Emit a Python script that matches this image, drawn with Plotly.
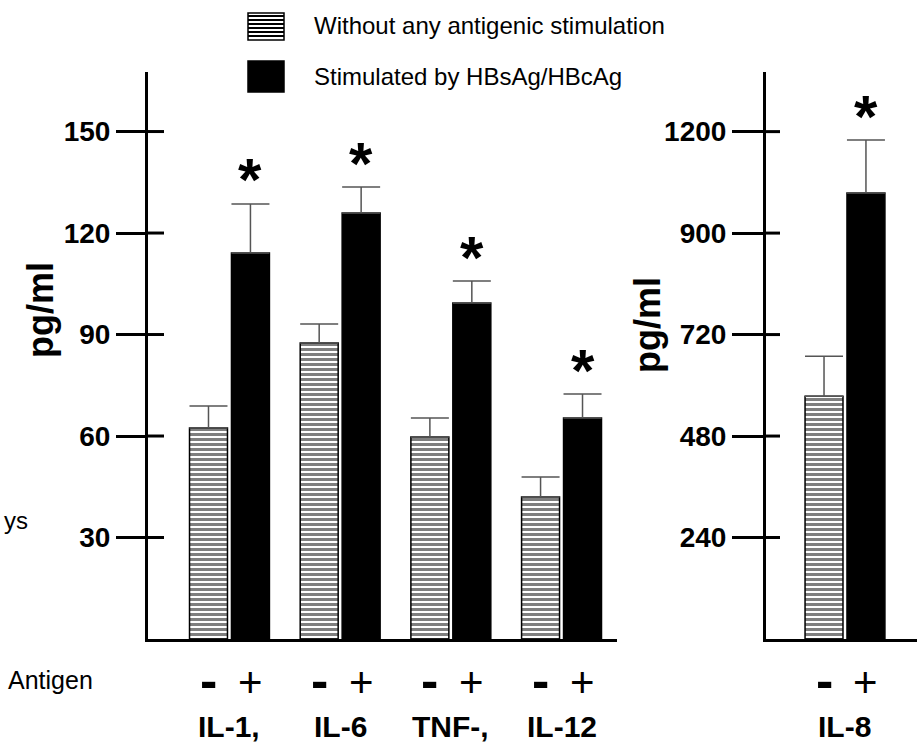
import plotly.graph_objects as go

# ---------------- data ----------------
cytokines = ["IL-1,", "IL-6", "TNF-,", "IL-12"]
unstim = [62.4, 87.5, 59.7, 42.0]
unstim_err = [6.5, 5.6, 5.6, 5.9]
stim = [114.1, 125.9, 99.3, 65.3]
stim_err = [14.5, 7.7, 6.5, 7.1]
left_ticks = [30, 60, 90, 120, 150]

il8_label = ["IL-8"]
il8_unstim = [574]
il8_unstim_err = [95]
il8_stim = [1055]
il8_stim_err = [125]
right_tickvals = [240, 480, 720, 960, 1200]
right_ticktext = ["240", "480", "720", "900", "1200"]

legend_names = ["Without any antigenic stimulation", "Stimulated by HBsAg/HBcAg"]
signs = ["-", "+"]

# ---------------- styles ----------------
W, H = 917, 748
ARIAL = "Liberation Sans, Arial"
BARGAP = 0.242
GROUPGAP = 0.095
OFF = (1 - BARGAP) / 4  # centre offset of each bar in a group of two

hatch = dict(color="white", line=dict(color="black", width=1.5),
             pattern=dict(shape="-", fgcolor="black", bgcolor="white", size=5, solidity=0.6))
solid = dict(color="black", line=dict(color="black", width=1.5))


def err(vals):
    return dict(type="data", symmetric=False, array=vals, arrayminus=[0] * len(vals),
                color="#555555", thickness=1.5, width=19)


def py(pix):
    return (H - pix) / H


def px(pix):
    return pix / W


fig = go.Figure()
xl = list(range(len(cytokines)))
xr = list(range(len(il8_label)))

fig.add_bar(x=xl, y=unstim, marker=hatch, error_y=err(unstim_err), xaxis="x", yaxis="y",
            showlegend=False, name=legend_names[0])
fig.add_bar(x=xl, y=stim, marker=solid, error_y=err(stim_err), xaxis="x", yaxis="y",
            showlegend=False, name=legend_names[1])
fig.add_bar(x=xr, y=il8_unstim, marker=hatch, error_y=err(il8_unstim_err), xaxis="x2", yaxis="y2",
            showlegend=False, name=legend_names[0])
fig.add_bar(x=xr, y=il8_stim, marker=solid, error_y=err(il8_stim_err), xaxis="x2", yaxis="y2",
            showlegend=False, name=legend_names[1])

LEFT_AX, RIGHT_AX = 148, 766
ydom = [py(639), py(72)]
tickfont = dict(family=ARIAL, size=28, color="black", weight="bold")
common_y = dict(showgrid=False, zeroline=False, linecolor="black", linewidth=3, showline=True,
                tickcolor="black", tickwidth=3, domain=ydom, ticks="outside")
common_x = dict(showgrid=False, zeroline=False, showline=True, linecolor="black", linewidth=3,
                showticklabels=False, ticks="")

fig.update_layout(
    width=W, height=H, margin=dict(l=0, r=0, t=0, b=0),
    paper_bgcolor="white", plot_bgcolor="white",
    barmode="group", bargap=BARGAP, bargroupgap=GROUPGAP,
    xaxis=dict(domain=[px(LEFT_AX), px(617)], range=[-0.736, 3.501], anchor="y", **common_x),
    yaxis=dict(anchor="x", range=[0, 167.6], ticklen=29,
               tickvals=left_ticks, tickfont=tickfont, **common_y),
    xaxis2=dict(domain=[px(RIGHT_AX), 1.0], range=[-0.714, 0.651], anchor="y2", **common_x),
    yaxis2=dict(anchor="x2", range=[0, 1341], ticklen=31,
                tickvals=right_tickvals, ticktext=right_ticktext, tickfont=tickfont, **common_y),
)

ann = []
star_font = dict(family=ARIAL, size=60, color="black", weight="bold")
minus_font = dict(family=ARIAL, size=52, color="black", weight="bold")
plus_font = dict(family=ARIAL, size=42, color="black")
cat_font = dict(family=ARIAL, size=30, color="black", weight="bold")


def panel_annotations(xs, labels, tops, errs, xref, yref):
    for i, lab in zip(xs, labels):
        ann.append(dict(x=i, y=py(726), xref=xref, yref="paper", text=lab, showarrow=False,
                        xanchor="center", yanchor="middle", font=cat_font))
        ann.append(dict(x=i - OFF, y=py(680), xref=xref, yref="paper", text=signs[0], showarrow=False,
                        xanchor="center", yanchor="middle", font=minus_font))
        ann.append(dict(x=i + OFF, y=py(682), xref=xref, yref="paper", text=signs[1], showarrow=False,
                        xanchor="center", yanchor="middle", font=plus_font))
    for i, t, e in zip(xs, tops, errs):
        ann.append(dict(x=i + OFF, y=t + e, xref=xref, yref=yref, text="*", showarrow=False,
                        xanchor="center", yanchor="middle", yshift=24, font=star_font))


panel_annotations(xl, cytokines, stim, stim_err, "x", "y")
panel_annotations(xr, il8_label, il8_stim, il8_stim_err, "x2", "y2")

title_font = dict(family=ARIAL, size=36, color="black", weight="bold")
ann.append(dict(x=px(40), y=py(310), xref="paper", yref="paper", text="pg/ml", textangle=-90,
                showarrow=False, xanchor="center", yanchor="middle", font=title_font))
ann.append(dict(x=px(648), y=py(325), xref="paper", yref="paper", text="pg/ml", textangle=-90,
                showarrow=False, xanchor="center", yanchor="middle", font=title_font))
ann.append(dict(x=px(6), y=py(680), xref="paper", yref="paper", text="Antigen", showarrow=False,
                xanchor="left", yanchor="middle", font=dict(family=ARIAL, size=25, color="black")))
ann.append(dict(x=px(2), y=py(520), xref="paper", yref="paper", text="ys", showarrow=False,
                xanchor="left", yanchor="middle", font=dict(family=ARIAL, size=24, color="black")))

# legend (manual)
leg_font = dict(family=ARIAL, size=24, color="black")
ann.append(dict(x=px(312), y=py(25), xref="paper", yref="paper", text=legend_names[0], showarrow=False,
                xanchor="left", yanchor="middle", font=leg_font))
ann.append(dict(x=px(312), y=py(77), xref="paper", yref="paper", text=legend_names[1], showarrow=False,
                xanchor="left", yanchor="middle", font=leg_font))
fig.update_layout(annotations=ann)

shapes = [
    dict(type="rect", xref="paper", yref="paper", x0=px(248), x1=px(284), y0=py(40), y1=py(13),
         fillcolor="white", line=dict(color="black", width=1.5)),
    dict(type="rect", xref="paper", yref="paper", x0=px(248), x1=px(284), y0=py(92), y1=py(61),
         fillcolor="black", line=dict(color="black", width=1.5)),
]
yy = 16
while yy < 40:
    shapes.append(dict(type="line", xref="paper", yref="paper", x0=px(248), x1=px(284), y0=py(yy), y1=py(yy),
                       line=dict(color="black", width=1.8)))
    yy += 4
# inner halves of the crossing tick marks, placed at the axis tick values
for v in left_ticks:
    shapes.append(dict(type="line", xref="paper", yref="y", x0=px(LEFT_AX), x1=px(LEFT_AX + 16),
                       y0=v, y1=v, line=dict(color="black", width=3)))
for v in right_tickvals:
    shapes.append(dict(type="line", xref="paper", yref="y2", x0=px(RIGHT_AX), x1=px(RIGHT_AX + 14),
                       y0=v, y1=v, line=dict(color="black", width=3)))
fig.update_layout(shapes=shapes)

fig.write_html("out.html")
